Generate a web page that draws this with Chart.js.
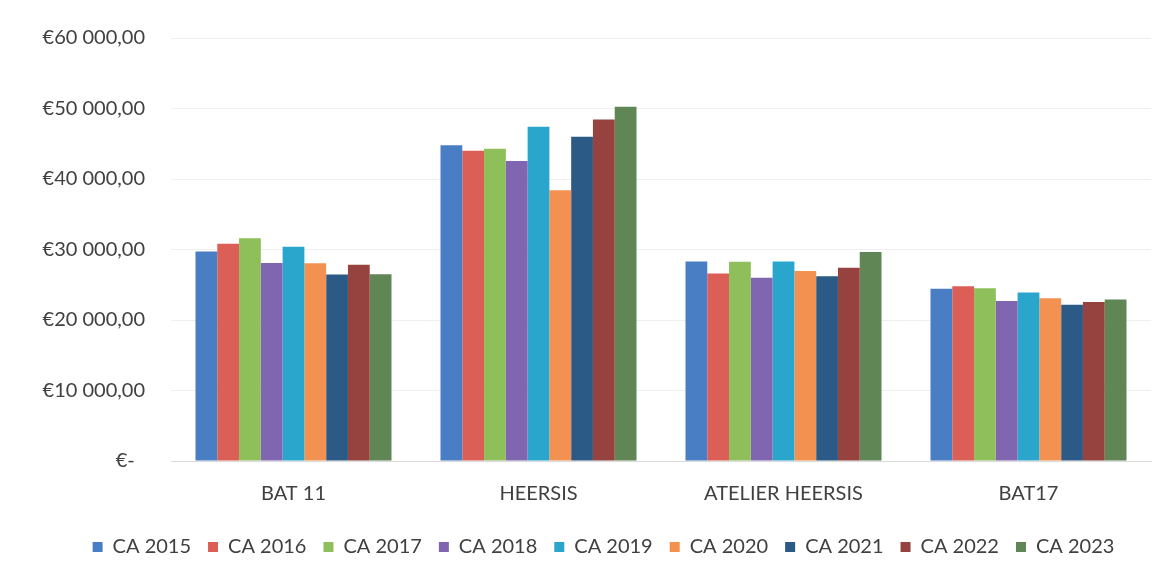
<!DOCTYPE html>
<html>
<head>
<meta charset="utf-8">
<script src="https://cdn.jsdelivr.net/npm/chart.js@4.4.1/dist/chart.umd.min.js"></script>
<style>
  html, body { margin: 0; padding: 0; background: #fff; }
  #wrap { width: 1173px; height: 578px; }
</style>
</head>
<body>
<div id="wrap"><canvas id="caChart" width="1173" height="578"></canvas></div>
<script>
// Données
const categories = ['BAT 11', 'HEERSIS', 'ATELIER HEERSIS', 'BAT17'];
const seriesNames = ['CA 2015', 'CA 2016', 'CA 2017', 'CA 2018', 'CA 2019', 'CA 2020', 'CA 2021', 'CA 2022', 'CA 2023'];
const ca2015 = [29700, 44800, 28300, 24450];
const ca2016 = [30800, 44000, 26600, 24800];
const ca2017 = [31600, 44300, 28250, 24500];
const ca2018 = [28100, 42550, 26000, 22700];
const ca2019 = [30400, 47400, 28300, 23900];
const ca2020 = [28050, 38400, 26950, 23100];
const ca2021 = [26450, 46000, 26200, 22150];
const ca2022 = [27850, 48450, 27400, 22550];
const ca2023 = [26500, 50250, 29650, 22900];
const yTicks = [0, 10000, 20000, 30000, 40000, 50000, 60000];

const seriesValues = [ca2015, ca2016, ca2017, ca2018, ca2019, ca2020, ca2021, ca2022, ca2023];
const colors = ['#4a7ec4', '#dc5f57', '#8fbf5a', '#8066b0', '#2aa6cc', '#f39250', '#2b5a86', '#96433f', '#5f8654'];

function euro(v) {
  if (v === 0) return '€-  ';
  const s = Math.round(v).toString().replace(/\B(?=(\d{3})+(?!\d))/g, ' ');
  return '€' + s + ',00';
}

const font = "Lato, 'Open Sans', sans-serif";

// décale un peu la légende vers la droite, comme dans l'original
const legendShift = {
  id: 'legendShift',
  afterLayout: function (chart) {
    if (chart.legend) {
      chart.legend.left += 28;
      chart.legend.right += 28;
    }
  }
};

new Chart(document.getElementById('caChart'), {
  type: 'bar',
  data: {
    labels: categories,
    datasets: seriesNames.map(function (name, i) {
      return {
        label: name,
        data: seriesValues[i],
        backgroundColor: colors[i],
        borderWidth: 0,
        barPercentage: 1,
        categoryPercentage: 0.8
      };
    })
  },
  plugins: [legendShift],
  options: {
    responsive: false,
    animation: false,
    layout: { padding: { top: 37, right: 22, left: 0, bottom: 11 } },
    plugins: {
      tooltip: { enabled: false },
      legend: {
        position: 'bottom',
        labels: {
          boxWidth: 10,
          boxHeight: 10,
          padding: 17,
          color: '#404040',
          font: { family: font, size: 20 }
        }
      }
    },
    scales: {
      x: {
        grid: { display: false, drawTicks: false },
        border: { color: '#d9d9d9' },
        ticks: { color: '#404040', padding: 21, font: { family: font, size: 20 } },
        afterFit: function (s) { s.height = 59; }
      },
      y: {
        min: 0,
        max: 60000,
        afterBuildTicks: function (s) { s.ticks = yTicks.map(function (v) { return { value: v }; }); },
        grid: { color: '#efefef', drawTicks: false },
        border: { display: false },
        ticks: {
          color: '#404040',
          padding: 26,
          font: { family: font, size: 20 },
          callback: function (v) { return euro(v); }
        },
        afterFit: function (s) { s.width = 171; }
      }
    }
  }
});
</script>
</body>
</html>
